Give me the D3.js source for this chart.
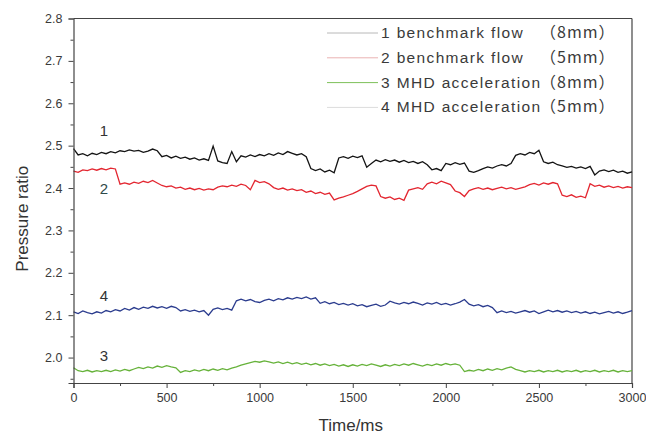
<!DOCTYPE html>
<html><head><meta charset="utf-8">
<script src="https://cdn.jsdelivr.net/npm/d3@7"></script>
<style>body{margin:0;background:#fff;} svg{display:block;font-family:"Liberation Sans",Arial,sans-serif;}</style>
</head><body>
<svg id="c" width="646" height="437"></svg>
<script>
const timeStep = 25;
const times = d3.range(0, 3001, timeStep);
const xTicks = [0, 500, 1000, 1500, 2000, 2500, 3000];
const yTicks = [2.0, 2.1, 2.2, 2.3, 2.4, 2.5, 2.6, 2.7, 2.8];
const seriesNames = ["1 benchmark flow", "2 benchmark flow", "3 MHD acceleration", "4 MHD acceleration"];
const seriesSizes = ["（8mm）", "（5mm）", "（8mm）", "（5mm）"];
const seriesTags = ["1", "2", "3", "4"];

const s1 = [
2.493,2.478,2.481,2.476,2.482,2.479,2.484,2.481,
2.486,2.483,2.488,2.486,2.490,2.487,2.489,2.484,
2.487,2.492,2.488,2.474,2.477,2.471,2.475,2.470,
2.473,2.468,2.471,2.466,2.469,2.465,2.499,2.464,
2.460,2.458,2.486,2.462,2.476,2.473,2.478,2.474,
2.479,2.476,2.481,2.477,2.483,2.479,2.486,2.482,
2.478,2.481,2.474,2.446,2.441,2.445,2.438,2.442,
2.436,2.471,2.474,2.470,2.475,2.472,2.476,2.449,
2.458,2.466,2.462,2.467,2.463,2.466,2.461,2.465,
2.460,2.463,2.458,2.462,2.455,2.443,2.446,2.441,
2.458,2.455,2.460,2.456,2.459,2.440,2.437,2.441,
2.446,2.450,2.447,2.452,2.455,2.452,2.458,2.477,
2.481,2.478,2.484,2.481,2.489,2.462,2.458,2.461,
2.455,2.452,2.449,2.451,2.447,2.450,2.446,2.451,
2.431,2.440,2.443,2.439,2.442,2.437,2.440,2.435,
2.438];
const s2 = [
2.440,2.437,2.443,2.441,2.445,2.442,2.446,2.443,
2.447,2.445,2.409,2.412,2.409,2.414,2.411,2.416,
2.413,2.418,2.412,2.406,2.403,2.405,2.400,2.402,
2.397,2.400,2.396,2.399,2.395,2.398,2.396,2.402,
2.405,2.403,2.407,2.404,2.409,2.406,2.396,2.418,
2.413,2.415,2.410,2.401,2.397,2.400,2.395,2.398,
2.394,2.396,2.390,2.393,2.387,2.390,2.385,2.388,
2.372,2.376,2.379,2.383,2.387,2.392,2.398,2.404,
2.407,2.405,2.380,2.376,2.379,2.373,2.376,2.371,
2.395,2.398,2.401,2.397,2.410,2.414,2.410,2.416,
2.412,2.408,2.393,2.389,2.380,2.394,2.398,2.401,
2.397,2.400,2.396,2.399,2.402,2.398,2.401,2.397,
2.400,2.403,2.408,2.411,2.407,2.412,2.409,2.413,
2.410,2.383,2.380,2.384,2.378,2.381,2.377,2.410,
2.404,2.407,2.402,2.405,2.401,2.404,2.400,2.403,
2.401];
const s3 = [
1.976,1.969,1.967,1.970,1.966,1.969,1.967,1.970,
1.967,1.971,1.968,1.972,1.969,1.973,1.977,1.974,
1.978,1.975,1.980,1.977,1.981,1.978,1.976,1.965,
1.969,1.967,1.971,1.968,1.972,1.969,1.973,1.970,
1.974,1.971,1.975,1.978,1.982,1.985,1.988,1.991,
1.989,1.992,1.990,1.987,1.990,1.986,1.989,1.985,
1.988,1.984,1.987,1.983,1.986,1.982,1.985,1.981,
1.984,1.980,1.983,1.979,1.983,1.980,1.984,1.981,
1.985,1.982,1.979,1.983,1.980,1.984,1.981,1.985,
1.982,1.986,1.983,1.980,1.984,1.981,1.985,1.982,
1.986,1.983,1.985,1.982,1.967,1.970,1.968,1.972,
1.969,1.973,1.970,1.974,1.971,1.975,1.978,1.972,
1.969,1.966,1.969,1.967,1.970,1.966,1.969,1.967,
1.970,1.966,1.969,1.967,1.970,1.966,1.969,1.967,
1.970,1.966,1.969,1.967,1.970,1.966,1.969,1.967,
1.969];
const s4 = [
2.108,2.104,2.110,2.106,2.103,2.108,2.105,2.111,
2.108,2.113,2.110,2.116,2.112,2.118,2.114,2.119,
2.116,2.121,2.117,2.120,2.116,2.121,2.118,2.110,
2.113,2.109,2.112,2.108,2.111,2.100,2.114,2.117,
2.113,2.116,2.112,2.134,2.138,2.134,2.137,2.132,
2.130,2.135,2.138,2.134,2.139,2.136,2.141,2.138,
2.142,2.139,2.143,2.138,2.141,2.128,2.132,2.127,
2.130,2.125,2.128,2.124,2.127,2.122,2.125,2.120,
2.123,2.126,2.121,2.124,2.133,2.129,2.126,2.130,
2.127,2.131,2.128,2.124,2.129,2.126,2.130,2.125,
2.128,2.124,2.127,2.131,2.137,2.126,2.122,2.125,
2.120,2.123,2.118,2.106,2.110,2.106,2.109,2.105,
2.108,2.111,2.107,2.110,2.104,2.108,2.112,2.108,
2.111,2.107,2.110,2.106,2.109,2.105,2.108,2.104,
2.107,2.103,2.106,2.109,2.105,2.108,2.104,2.107,
2.111];

const seriesValues = [s1, s2, s3, s4];
const lineColors = ["#141414", "#e32630", "#66b23a", "#2b3c8e"];
const legendColors = ["#b8b8b8", "#eab2b2", "#7dc05a", "#dcdcdc"];
const tagValues = [2.523, 2.386, 1.991, 2.133];

const svg = d3.select("#c");
const L = 73.5, R = 632, T = 18.5, B = 383;
const x = d3.scaleLinear().domain([0, 3000]).range([L, R]);
const y = d3.scaleLinear().domain([1.94, 2.8]).range([B, T]);

// frame top/right
svg.append("line").attr("x1", L).attr("x2", R).attr("y1", T).attr("y2", T).attr("stroke", "#444").attr("stroke-width", 1.2);
svg.append("line").attr("x1", R).attr("x2", R).attr("y1", T).attr("y2", B).attr("stroke", "#444").attr("stroke-width", 1.2);

// lines
const line = d3.line().x((d, i) => x(times[i])).y(d => y(d));
seriesValues.forEach((vals, k) => {
  svg.append("path").datum(vals).attr("d", line).attr("fill", "none")
    .attr("stroke", lineColors[k]).attr("stroke-width", 1.3).attr("stroke-linejoin", "miter");
});

// axes
const xAxis = d3.axisBottom(x).tickValues(xTicks).tickFormat(d3.format("d")).tickSize(5).tickPadding(5);
svg.append("g").attr("transform", `translate(0,${B})`).call(xAxis);
const xMinor = d3.axisBottom(x).tickValues(d3.range(250, 3000, 500)).tickFormat("").tickSize(3);
svg.append("g").attr("transform", `translate(0,${B})`).call(xMinor).select(".domain").remove();
const yAxis = d3.axisLeft(y).tickValues(yTicks).tickFormat(d3.format(".1f")).tickSize(5).tickPadding(6);
svg.append("g").attr("transform", `translate(${L},0)`).call(yAxis);
const yMinor = d3.axisLeft(y).tickValues(d3.range(1.95, 2.8, 0.1)).tickFormat("").tickSize(3);
svg.append("g").attr("transform", `translate(${L},0)`).call(yMinor).select(".domain").remove();
svg.selectAll(".domain").attr("stroke", "#444").attr("stroke-width", 1.2);
svg.selectAll(".tick line").attr("stroke", "#444");
svg.selectAll(".tick text").attr("fill", "#3a3a3a").style("font-size", "12.5px").style("font-family", "Liberation Sans, Arial, sans-serif");

// axis titles
svg.append("text").attr("x", (L + R) / 2 - 2).attr("y", 431).attr("text-anchor", "middle")
  .attr("fill", "#333").style("font-size", "17px").text("Time/ms");
svg.append("text").attr("transform", `translate(28,${(T + B) / 2 + 18}) rotate(-90)`).attr("text-anchor", "middle")
  .attr("fill", "#333").style("font-size", "17px").text("Pressure ratio");

// series tags
seriesTags.forEach((t, k) => {
  svg.append("text").attr("x", 104).attr("y", y(tagValues[k])).attr("text-anchor", "middle")
    .attr("fill", k === 1 ? "#2f4a4a" : "#333").style("font-size", "15px").text(t);
});

// legend
seriesNames.forEach((n, k) => {
  const ly = 33 + k * 24.8;
  svg.append("line").attr("x1", 327).attr("x2", 378).attr("y1", ly).attr("y2", ly)
    .attr("stroke", legendColors[k]).attr("stroke-width", 1);
  svg.append("text").attr("x", 381).attr("y", ly + 5).attr("fill", "#3a3a3a")
    .style("font-size", "15.5px").style("letter-spacing", "1.35px").text(n);
  svg.append("text").attr("x", 540).attr("y", ly + 5).attr("fill", "#3a3a3a")
    .style("font-size", "16px").style("letter-spacing", "1px")
    .style("font-family", "Noto Sans CJK SC, sans-serif").text(seriesSizes[k]);
});
</script>
</body></html>
